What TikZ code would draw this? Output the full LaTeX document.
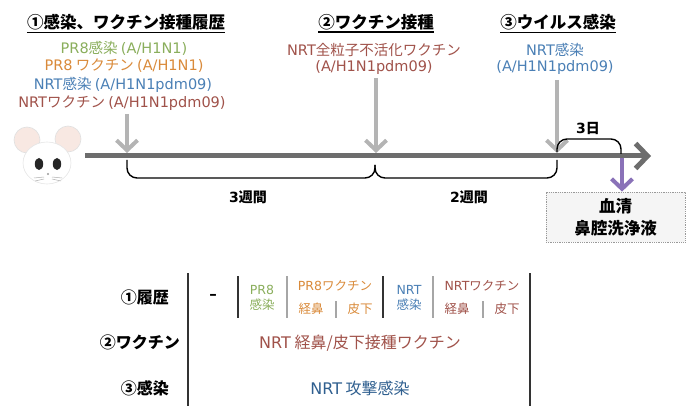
\documentclass[tikz,border=0pt]{standalone}
\usepackage{fontspec}
\setmainfont{Noto Sans CJK JP}
\newfontfamily\latinface{DejaVu Sans}
\newcommand\lt[1]{{\latinface #1}}
\usetikzlibrary{arrows.meta}

\definecolor{pgreen}{HTML}{8AAE5C}
\definecolor{porange}{HTML}{D98A3A}
\definecolor{nblue}{HTML}{4A7FB5}
\definecolor{ndblue}{HTML}{2F5F8F}
\definecolor{nbrown}{HTML}{A0524A}
\definecolor{ptrgray}{HTML}{B4B4B4}
\definecolor{linegray}{HTML}{6D6D6D}
\definecolor{sampleviolet}{HTML}{8A72B8}
\definecolor{earpink}{HTML}{F8E8E2}

\begin{document}
\begin{tikzpicture}[x=1pt,y=-1pt,
  head/.style={font=\fontsize{16.5}{18}\selectfont\bfseries, inner sep=0pt},
  info/.style={font=\fontsize{14.5}{17}\selectfont, inner sep=0pt},
  span/.style={font=\fontsize{14}{16}\selectfont\bfseries, inner sep=0pt},
  rowlabel/.style={font=\fontsize{16}{18}\selectfont\bfseries, inner sep=0pt, anchor=east},
  cell/.style={font=\fontsize{12.5}{14}\selectfont, inner sep=0pt},
  pointer/.style={draw=ptrgray, line width=4pt, -{Straight Barb[length=10pt,width=21pt]}},
  timeline/.style={draw=linegray, line width=5pt, -{Straight Barb[length=12pt,width=25pt]}},
  bracket/.style={draw=black, line width=1.4pt, rounded corners=10pt},
  major/.style={draw=black!80, line width=2.4pt},
  minor/.style={draw=black!35, line width=1.3pt}]

\useasboundingbox (0,0) rectangle (687,406);

% ---------- headings ----------
\node[head] (h1) at (126,22) {①感染、ワクチン接種履歴};
\node[head] (h2) at (376,22) {②ワクチン接種};
\node[head] (h3) at (558,22) {③ウイルス感染};
\foreach \h in {h1,h2,h3}
  \draw[line width=1.2pt] ([yshift=-2pt]\h.south west) -- ([yshift=-2pt]\h.south east);

% ---------- history ----------
\node[info, text=pgreen]  (l1) at (124,48)  {\lt{PR8}感染 \lt{(A/H1N1)}};
\node[info, text=porange] (l2) at (124,66)  {\lt{PR8} ワクチン \lt{(A/H1N1)}};
\node[info, text=nblue]   (l3) at (123,85)  {\lt{NRT}感染 \lt{(A/H1N1pdm09)}};
\node[info, text=nbrown]  (l4) at (122,103) {\lt{NRT}ワクチン \lt{(A/H1N1pdm09)}};

\node[info, text=nbrown] (v1) at (374,50) {\lt{NRT}全粒子不活化ワクチン};
\node[info, text=nbrown] (v2) at (374,68) {\lt{(A/H1N1pdm09)}};

\node[info, text=nblue] (i1) at (555,50) {\lt{NRT}感染};
\node[info, text=nblue] (i2) at (555,68) {\lt{(A/H1N1pdm09)}};

% ---------- mouse ----------
\begin{scope}
  \draw[draw=black!12, fill=earpink, line width=0.6pt] (27,140) circle (13);
  \draw[draw=black!12, fill=earpink, line width=0.6pt] (68,139) circle (13);
  \draw[draw=black!10, fill=white, line width=0.6pt] (47,163) ellipse (24 and 21);
  \fill[black!85] (39,164) ellipse (4.2 and 6);
  \fill[black!85] (57,164) ellipse (4.2 and 6);
  \fill[black!40] (48,174) circle (1.2);
  \draw[black!30, line width=0.5pt] (34,178) -- (44,177) (35,181) -- (44,179)
        (52,177) -- (62,178) (52,179) -- (61,181);
\end{scope}

% ---------- time line ----------
\coordinate (t0) at (85,156);
\coordinate (t1) at (651,156);
\draw[timeline] (t0) -- (t1);

\coordinate (p1) at (127,153);
\coordinate (p2) at (376,153);
\coordinate (p3) at (557,153);
\coordinate (s1) at (127,114);
\coordinate (s2) at (376,78);
\coordinate (s3) at (557,80);
\draw[pointer] (s1) -- (p1);
\draw[pointer] (s2) -- (p2);
\draw[pointer] (s3) -- (p3);

% intervals
\draw[bracket] (127,160) -- (127,178) -- (375,178) -- (375,165);
\draw[bracket] (375,165) -- (375,178) -- (557,178) -- (557,160);
\draw[bracket] (557,152) -- (557,139) -- (621,139) -- (621,154);
\node[span] (w3) at (248,197) {\lt{3}週間};
\node[span] (w2) at (469,197) {\lt{2}週間};
\node[span] (d3) at (588,128) {\lt{3}日};

% sampling
\node[draw=black!40, densely dotted, fill=black!4, line width=0.8pt,
      minimum width=139pt, minimum height=50pt, inner sep=0pt,
      align=center, font=\fontsize{16.5}{22}\selectfont\bfseries]
      (sample) at (615.5,217) {血清\\鼻腔洗浄液};
\coordinate (p4) at (622,158);
\draw[draw=sampleviolet, line width=4pt, -{Straight Barb[length=10pt,width=21pt]}]
  (p4) -- (sample.north -| p4);

% ---------- table ----------
\node[rowlabel] (r1) at (169,297) {①履歴};
\node[rowlabel] (r2) at (180,342) {②ワクチン};
\node[rowlabel] (r3) at (169,388) {③感染};

\draw[major] (188,273) -- (188,406);
\draw[major] (530,273) -- (530,406);
\draw[major] (238,276) -- (238,318);
\draw[major] (383,276) -- (383,318);
\draw[minor] (287,276) -- (287,318);
\draw[minor] (433,276) -- (433,318);
\draw[minor] (336,301) -- (336,318);
\draw[minor] (483,301) -- (483,318);

\node[font=\fontsize{15}{16}\selectfont\bfseries, inner sep=0pt] (none) at (213,297) {\lt{–}};

\node[cell, text=pgreen] (c1a) at (262,290) {\lt{PR8}};
\node[cell, text=pgreen] (c1b) at (262,305) {感染};
\node[cell, text=porange] (c2) at (335,286) {\lt{PR8}ワクチン};
\node[cell, text=porange] (c2a) at (311,309) {経鼻};
\node[cell, text=porange] (c2b) at (360,309) {皮下};
\node[cell, text=nblue] (c3a) at (409,290) {\lt{NRT}};
\node[cell, text=nblue] (c3b) at (409,305) {感染};
\node[cell, text=nbrown] (c4) at (482,286) {\lt{NRT}ワクチン};
\node[cell, text=nbrown] (c4a) at (457,309) {経鼻};
\node[cell, text=nbrown] (c4b) at (507,309) {皮下};

\node[font=\fontsize{16}{18}\selectfont, text=nbrown, inner sep=0pt] (vac) at (360,343) {\lt{NRT} 経鼻/皮下接種ワクチン};
\node[font=\fontsize{16}{18}\selectfont, text=ndblue, inner sep=0pt] (inf) at (360,388) {\lt{NRT} 攻撃感染};
\end{tikzpicture}
\end{document}
